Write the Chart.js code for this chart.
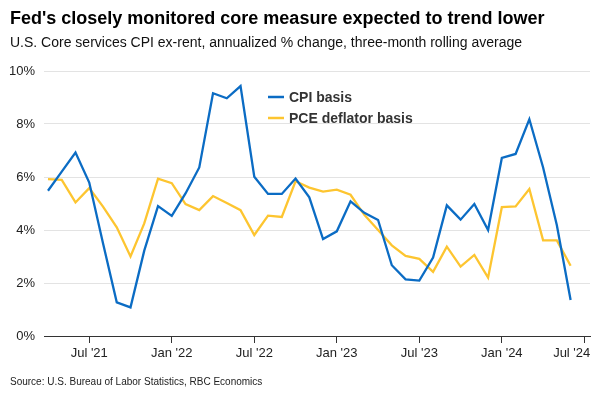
<!DOCTYPE html>
<html>
<head>
<meta charset="utf-8">
<script src="https://cdn.jsdelivr.net/npm/chart.js@4.4.1/dist/chart.umd.min.js"></script>
<style>
  html, body { margin: 0; padding: 0; background: #fff; }
  #wrap { width: 600px; height: 400px; position: relative; }
</style>
</head>
<body>
<div id="wrap"><canvas id="c" width="600" height="400"></canvas></div>
<script>
// Monthly observations, Apr 2021 .. Jun 2024
const months = [
  "2021-04","2021-05","2021-06","2021-07","2021-08","2021-09","2021-10","2021-11","2021-12",
  "2022-01","2022-02","2022-03","2022-04","2022-05","2022-06","2022-07","2022-08","2022-09","2022-10","2022-11","2022-12",
  "2023-01","2023-02","2023-03","2023-04","2023-05","2023-06","2023-07","2023-08","2023-09","2023-10","2023-11","2023-12",
  "2024-01","2024-02","2024-03","2024-04","2024-05","2024-06"
];
const cpiBasis = [
  5.48, 6.20, 6.92, 5.79, 3.50, 1.27, 1.08, 3.22, 4.90,
  4.53, 5.38, 6.36, 9.16, 8.97, 9.43, 6.01, 5.36, 5.36, 5.94, 5.23, 3.66,
  3.95, 5.08, 4.65, 4.38, 2.67, 2.14, 2.09, 2.96, 4.93, 4.39, 4.98, 4.00,
  6.72, 6.87, 8.18, 6.36, 4.18, 1.36
];
const pceBasis = [
  5.92, 5.89, 5.04, 5.58, 4.88, 4.10, 3.00, 4.25, 5.94,
  5.77, 4.98, 4.75, 5.28, 5.02, 4.75, 3.81, 4.54, 4.49, 5.84, 5.60, 5.45,
  5.52, 5.33, 4.57, 4.00, 3.42, 3.02, 2.91, 2.42, 3.37, 2.62, 3.06, 2.20,
  4.86, 4.89, 5.55, 3.61, 3.61, 2.65
];
const tickMonths = ["2021-07","2022-01","2022-07","2023-01","2023-07","2024-01","2024-07"];
const tickLabels = ["Jul '21","Jan '22","Jul '22","Jan '23","Jul '23","Jan '24","Jul '24"];
const seriesNames = ["CPI basis", "PCE deflator basis"];
const yTicks = [0, 2, 4, 6, 8, 10];

const titleText = "Fed's closely monitored core measure expected to trend lower";
const subtitleText = "U.S. Core services CPI ex-rent, annualized % change, three-month rolling average";
const sourceText = "Source: U.S. Bureau of Labor Statistics, RBC Economics";

const FONT = "'Liberation Sans', Arial, sans-serif";
const BLUE = '#0b6cc4';
const YELLOW = '#fdc530';

function monthIndex(m) {
  const [y, mo] = m.split('-').map(Number);
  const [y0, m0] = months[0].split('-').map(Number);
  return (y - y0) * 12 + (mo - m0);
}
const tickIdx = tickMonths.map(monthIndex);

const textPlugin = {
  id: 'texts',
  afterDraw(chart) {
    const ctx = chart.ctx;
    ctx.save();
    ctx.textAlign = 'left';
    ctx.textBaseline = 'alphabetic';
    ctx.fillStyle = '#000';
    ctx.font = "bold 18px " + FONT;
    ctx.fillText(titleText, 10, 24);
    ctx.fillStyle = '#111';
    ctx.font = "14px " + FONT;
    ctx.fillText(subtitleText, 10, 47);
    ctx.fillStyle = '#222';
    ctx.font = "10px " + FONT;
    ctx.fillText(sourceText, 10, 385);
    // legend
    const ds = chart.data.datasets;
    ctx.font = "bold 14px " + FONT;
    ctx.textBaseline = 'middle';
    ds.forEach((d, i) => {
      const y = 97 + i * 21;
      ctx.strokeStyle = d.borderColor;
      ctx.lineWidth = 2.5;
      ctx.beginPath();
      ctx.moveTo(268, y);
      ctx.lineTo(284, y);
      ctx.stroke();
      ctx.fillStyle = '#333';
      ctx.fillText(d.label, 289, y + 1);
    });
    ctx.restore();
  }
};

new Chart(document.getElementById('c'), {
  type: 'line',
  data: {
    datasets: [
      { label: seriesNames[0], data: months.map((m, i) => ({ x: i, y: cpiBasis[i] })),
        borderColor: BLUE, backgroundColor: BLUE, borderWidth: 2.3, pointRadius: 0, tension: 0 },
      { label: seriesNames[1], data: months.map((m, i) => ({ x: i, y: pceBasis[i] })),
        borderColor: YELLOW, backgroundColor: YELLOW, borderWidth: 2.3, pointRadius: 0, tension: 0 }
    ]
  },
  options: {
    responsive: false,
    animation: false,
    devicePixelRatio: 1,
    layout: { padding: { top: 71, left: 0, right: 10, bottom: 0 } },
    plugins: { legend: { display: false }, tooltip: { enabled: false }, title: { display: false } },
    scales: {
      x: {
        type: 'linear',
        min: -0.29,
        max: 39.41,
        afterBuildTicks(scale) { scale.ticks = tickIdx.map(v => ({ value: v })); },
        afterFit(scale) { scale.height = 64; scale.paddingLeft = 0; scale.paddingRight = 0; },
        ticks: {
          autoSkip: false,
          maxRotation: 0,
          padding: 3,
          color: '#222',
          font: { family: FONT, size: 13 },
          callback(v) {
            const k = tickIdx.indexOf(v);
            if (k < 0) return '';
            // last label is nudged left so it stays inside the frame
            return k === tickLabels.length - 1 ? tickLabels[k] + '\u00a0'.repeat(7) : tickLabels[k];
          }
        },
        grid: { drawOnChartArea: false, drawTicks: true, tickLength: 7, color: '#333', lineWidth: 1 },
        border: { display: true, color: '#333', width: 1 }
      },
      y: {
        min: 0,
        max: 10,
        afterBuildTicks(scale) { scale.ticks = yTicks.map(v => ({ value: v })); },
        afterFit(scale) { scale.width = 44; },
        ticks: {
          padding: 9,
          color: '#222',
          font: { family: FONT, size: 13 },
          callback(v) { return v + '%'; }
        },
        grid: {
          drawTicks: false,
          color: ctx => (ctx.tick && ctx.tick.value === 0) ? '#333' : '#e3e3e3',
          lineWidth: 1
        },
        border: { display: false }
      }
    }
  },
  plugins: [textPlugin]
});
</script>
</body>
</html>
